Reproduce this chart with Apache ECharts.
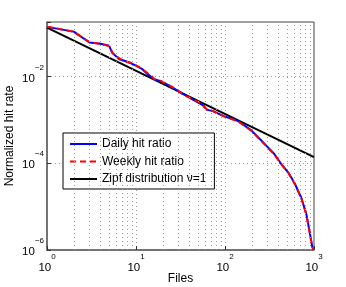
<!DOCTYPE html>
<html><head><meta charset="utf-8">
<script src="https://cdn.jsdelivr.net/npm/echarts@6/dist/echarts.min.js"></script>
<style>html,body{margin:0;padding:0;background:#fff}#c{width:346px;height:287px}</style>
</head><body><div id="c"></div>
<script>
const dailyX = [1, 2, 3, 4, 5, 5.4, 6.5, 7.4, 8.4, 10, 11.8, 13.5, 16, 19, 26, 34, 50, 58, 62, 73, 97, 140, 196, 254, 358, 430, 514, 600, 720, 820, 888, 955, 985];
const dailyY = [0.139, 0.108, 0.0605, 0.057, 0.051, 0.035, 0.025, 0.023, 0.021, 0.0177, 0.0147, 0.0113, 0.0087, 0.0078, 0.0055, 0.0039, 0.0025, 0.0021, 0.00172, 0.00159, 0.00122, 0.00094, 0.00058, 0.00034, 0.000163, 0.000095, 0.000061, 0.000036, 0.000016, 0.0000067, 0.0000028, 0.0000012, 0.000001];
const weeklyX = [1, 2, 3, 4, 5, 5.5, 6.5, 7.5, 8.5, 10, 12, 13.5, 14.6, 16, 19, 26, 34, 50, 58, 63, 73, 97, 140, 196, 254, 358, 430, 514, 600, 720, 820, 888, 955, 985];
const weeklyY = [0.14, 0.107, 0.062, 0.056, 0.05, 0.034, 0.026, 0.022, 0.021, 0.018, 0.0145, 0.0118, 0.0111, 0.0086, 0.0079, 0.0056, 0.0038, 0.0026, 0.002, 0.0017, 0.0016, 0.0012, 0.00093, 0.00057, 0.00033, 0.00016, 0.000094, 0.00006, 0.000035, 0.0000158, 0.0000066, 0.0000027, 0.0000012, 0.000001];
const zipfX = [1, 1000];
const zipfY = [0.134, 0.000138];
const minorGridX = [2,3,4,5,6,7,8,9,20,30,40,50,60,70,80,90,200,300,400,500,600,700,800,900];
const seriesNames = ['Daily hit ratio', 'Weekly hit ratio', 'Zipf distribution \u03bd=1'];

const pairs = (xs, ys) => xs.map((x, i) => [x, ys[i]]);
const FONT = "'Liberation Sans', Arial, sans-serif";
function powLabel(v) {
  const l = Math.log10(v);
  const e = Math.round(l);
  if (Math.abs(l - e) > 0.01) return '';
  return '{b|10}{s|' + (e < 0 ? '\u2212' + (-e) : e) + '}';
}
const rich = {
  b: {fontSize: 11.5, fontFamily: FONT, color: '#000', verticalAlign: 'bottom', lineHeight: 21},
  s: {fontSize: 8, fontFamily: FONT, color: '#000', verticalAlign: 'top', lineHeight: 21}
};
const gridDot = {type: [1, 3], color: '#999', width: 1};
const chart = echarts.init(document.getElementById('c'));
chart.setOption({
  animation: false,
  textStyle: {fontFamily: FONT},
  grid: {left: 47, right: 32, top: 22, bottom: 37, show: true, borderColor: '#444', borderWidth: 1,
         containLabel: false, outerBoundsMode: 'none'},
  legend: {
    orient: 'vertical', left: 63, top: 133,
    data: seriesNames,
    backgroundColor: '#fff', borderColor: '#000', borderWidth: 1, borderRadius: 0,
    padding: [5, 8, 4, 6], itemWidth: 27, itemHeight: 12, itemGap: 5.5,
    itemStyle: {opacity: 0},
    textStyle: {fontSize: 12, color: '#000', fontFamily: FONT}
  },
  xAxis: {
    type: 'log', logBase: 10, min: 1, max: 1000,
    name: 'Files', nameLocation: 'middle', nameGap: 23, nameMoveOverlap: false,
    nameTextStyle: {fontSize: 12, color: '#000', fontFamily: FONT},
    axisLine: {lineStyle: {color: '#666', width: 1.5}},
    axisTick: {inside: true, length: 4, lineStyle: {color: '#333'}},
    axisLabel: {formatter: powLabel, rich: rich, margin: 3},
    splitLine: {show: true, lineStyle: gridDot}
  },
  yAxis: {
    type: 'log', logBase: 10, min: 1e-6, max: 0.18, interval: 2,
    name: 'Normalized hit rate', nameLocation: 'middle', nameGap: 31, nameMoveOverlap: false,
    nameTextStyle: {fontSize: 12, color: '#000', fontFamily: FONT},
    axisLine: {lineStyle: {color: '#666', width: 1.5}},
    axisTick: {inside: true, length: 4, lineStyle: {color: '#333'}},
    axisLabel: {formatter: powLabel, rich: rich, margin: 3, padding: [0, 0, 5, 0]},
    splitLine: {show: true, lineStyle: gridDot}
  },
  series: [
    {
      name: seriesNames[0], type: 'line', data: pairs(dailyX, dailyY),
      symbol: 'none', color: '#0000ff', lineStyle: {width: 2, color: '#0000ff'}, z: 3,
      markLine: {
        silent: true, symbol: 'none', label: {show: false},
        lineStyle: gridDot,
        data: minorGridX.map(v => ({xAxis: v}))
      }
    },
    {
      name: seriesNames[1], type: 'line', data: pairs(weeklyX, weeklyY),
      symbol: 'none', color: '#ff0000', lineStyle: {width: 2, color: '#ff0000', type: [6, 4]}, z: 4
    },
    {
      name: seriesNames[2], type: 'line', data: pairs(zipfX, zipfY),
      symbol: 'none', color: '#000', lineStyle: {width: 2, color: '#000'}, z: 2
    }
  ]
});
</script></body></html>
